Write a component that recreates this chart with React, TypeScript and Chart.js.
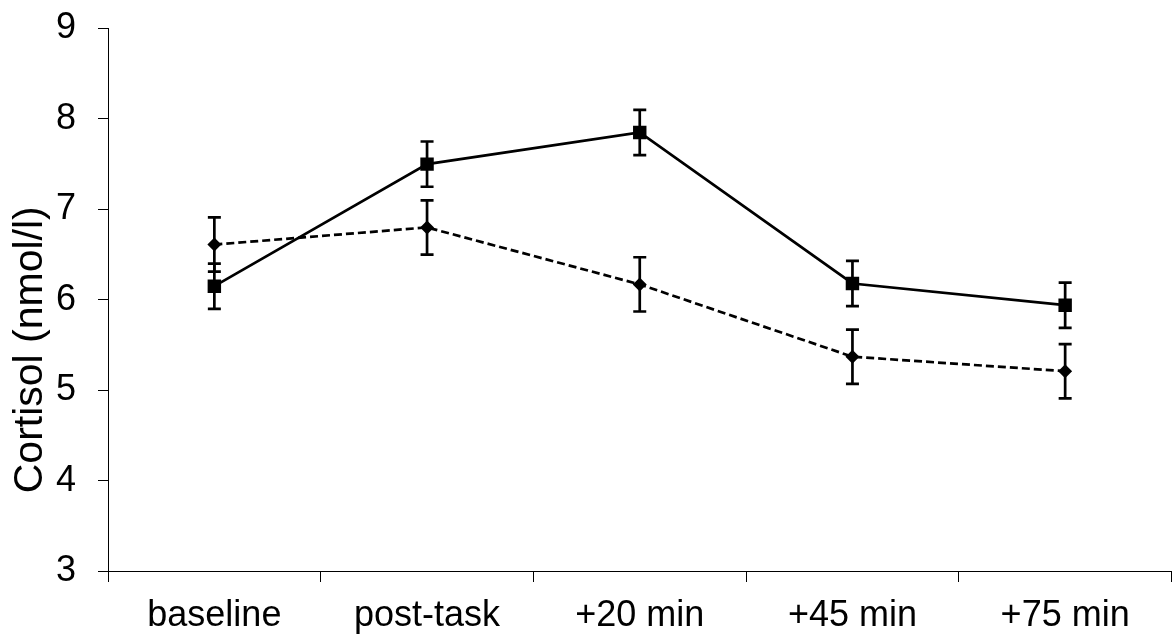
import { useEffect, useRef } from "react";
import { Chart, registerables } from "chart.js";

Chart.register(...registerables);

const categories = ["baseline", "post-task", "+20 min", "+45 min", "+75 min"];
const solidValues = [6.15, 7.5, 7.85, 6.18, 5.94];
const solidErrors = [0.25, 0.25, 0.25, 0.25, 0.25];
const dashedValues = [6.61, 6.8, 6.17, 5.37, 5.21];
const dashedErrors = [0.3, 0.3, 0.3, 0.3, 0.3];
const yMin = 3;
const yMax = 9;
const yStep = 1;
const yTitle = "Cortisol (nmol/l)";

const FONT = "'Liberation Sans', Arial, Helvetica, sans-serif";

const errorBarsPlugin = {
  id: "errorBars",
  afterDatasetsDraw(chart: any) {
    const ctx = chart.ctx;
    const yScale = chart.scales.y;
    chart.data.datasets.forEach((ds: any, i: number) => {
      const meta = chart.getDatasetMeta(i);
      const errs: number[] = ds.errors || [];
      meta.data.forEach((pt: any, j: number) => {
        const v = ds.data[j];
        const e = errs[j];
        if (v == null || e == null) return;
        const x = pt.x;
        const yt = yScale.getPixelForValue(v + e);
        const yb = yScale.getPixelForValue(v - e);
        ctx.save();
        ctx.strokeStyle = "#000";
        ctx.lineWidth = 2.7;
        ctx.setLineDash([]);
        ctx.beginPath();
        ctx.moveTo(x, yt);
        ctx.lineTo(x, yb);
        ctx.moveTo(x - 6.5, yt);
        ctx.lineTo(x + 6.5, yt);
        ctx.moveTo(x - 6.5, yb);
        ctx.lineTo(x + 6.5, yb);
        ctx.stroke();
        ctx.restore();
      });
    });
  },
};

const yTitlePlugin = {
  id: "yTitleCustom",
  afterDraw(chart: any) {
    const ctx = chart.ctx;
    const area = chart.chartArea;
    const cy = (area.top + area.bottom) / 2 + 50;
    ctx.save();
    ctx.translate(31, cy);
    ctx.rotate(-Math.PI / 2);
    ctx.fillStyle = "#000";
    ctx.font = `41px ${FONT}`;
    ctx.textAlign = "center";
    ctx.textBaseline = "middle";
    ctx.fillText(yTitle, 0, 0);
    ctx.restore();
  },
};

export default function App() {
  const ref = useRef<HTMLCanvasElement | null>(null);

  useEffect(() => {
    if (!ref.current) return;
    const chart = new Chart(ref.current, {
      type: "line",
      data: {
        labels: categories,
        datasets: [
          {
            label: "dashed",
            data: dashedValues,
            errors: dashedErrors,
            borderColor: "#000",
            backgroundColor: "#000",
            borderWidth: 2.7,
            borderDash: [8, 4],
            pointStyle: "rectRot",
            pointRadius: 7,
            pointBorderWidth: 0,
            pointBackgroundColor: "#000",
            tension: 0,
          } as any,
          {
            label: "solid",
            data: solidValues,
            errors: solidErrors,
            borderColor: "#000",
            backgroundColor: "#000",
            borderWidth: 2.7,
            pointStyle: "rect",
            pointRadius: 9.5,
            pointBorderWidth: 0,
            pointBackgroundColor: "#000",
            tension: 0,
          } as any,
        ],
      },
      options: {
        animation: false,
        responsive: false,
        layout: { padding: { top: 28.5, right: 0, bottom: 0, left: 0 } },
        plugins: {
          legend: { display: false },
          tooltip: { enabled: false },
          title: { display: false },
        },
        scales: {
          x: {
            type: "category",
            offset: true,
            grid: {
              offset: true,
              drawOnChartArea: false,
              drawTicks: true,
              tickLength: 11,
              color: "#000",
              lineWidth: 1,
            },
            border: { display: true, color: "#000", width: 1 },
            ticks: {
              color: "#000",
              font: { family: FONT, size: 36 },
              padding: 12,
              maxRotation: 0,
              autoSkip: false,
            },
            afterFit(scale: any) {
              scale.height = 67;
              scale.paddingLeft = 0;
              scale.paddingRight = 0;
            },
          },
          y: {
            min: yMin,
            max: yMax,
            grid: {
              drawOnChartArea: false,
              drawTicks: true,
              tickLength: 10,
              color: "#000",
              lineWidth: 1,
            },
            border: { display: true, color: "#000", width: 1 },
            ticks: {
              stepSize: yStep,
              color: "#000",
              font: { family: FONT, size: 36 },
              padding: 22,
            },
            afterFit(scale: any) {
              scale.width = 108;
              scale.paddingTop = 0;
              scale.paddingBottom = 0;
            },
          },
        },
      } as any,
      plugins: [errorBarsPlugin, yTitlePlugin],
    });
    return () => chart.destroy();
  }, []);

  return (
    <div
      style={{
        position: "fixed",
        left: 0,
        top: 0,
        width: 1172,
        height: 638,
        overflow: "hidden",
        background: "#fff",
      }}
    >
      <canvas
        ref={ref}
        width={1181}
        height={638}
        style={{ display: "block", width: 1181, height: 638 }}
      />
    </div>
  );
}
